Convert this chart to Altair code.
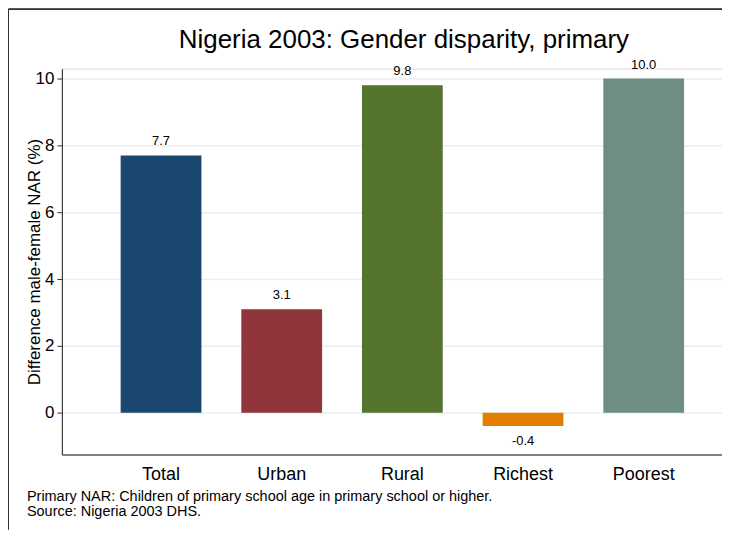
import altair as alt
import pandas as pd

categories = ["Total", "Urban", "Rural", "Richest", "Poorest"]
values = [7.7, 3.1, 9.8, -0.4, 10.0]
colors = ["#1a476f", "#90353b", "#55752f", "#e37e00", "#6e8e84"]
notes = ["Primary NAR: Children of primary school age in primary school or higher.",
         "Source: Nigeria 2003 DHS."]

df = pd.DataFrame({"cat": categories, "val": values,
                   "pos": [v >= 0 for v in values]})
notes_df = pd.DataFrame({"line": ["\n".join(notes)]})

FONT = "Liberation Sans"
W, H = 662, 387

x = alt.X("cat:N", sort=categories, title=None,
          scale=alt.Scale(paddingInner=0.3306, paddingOuter=0.4008, align=0.608),
          axis=alt.Axis(labelAngle=0, labelFontSize=18, labelFont=FONT, labelColor="#000",
                        ticks=False, domainColor="#808080", domainWidth=2,
                        labelPadding=11, grid=False))
y = alt.Y("val:Q", title="Difference male-female NAR (%)",
          scale=alt.Scale(domain=[-1.25, 10.3], nice=False, zero=False),
          axis=alt.Axis(values=[0, 2, 4, 6, 8, 10], labelFontSize=17, labelFont=FONT,
                        labelColor="#000", titleFontSize=17, titleFont=FONT,
                        titleFontWeight="normal", titleColor="#000", titleX=-22,
                        titleBaseline="alphabetic",
                        tickSize=5, tickColor="#333", domainColor="#222",
                        labelPadding=3, gridColor="#e8eef2", gridWidth=1.5,
                        domainWidth=1))

bars = alt.Chart(df).mark_bar(size=81).encode(
    x=x, y=y,
    color=alt.Color("cat:N", sort=categories,
                    scale=alt.Scale(domain=categories, range=colors), legend=None),
)

label_expr = "replace(format(datum.val, '.1f'), '\u2212', '-')"

lab_pos = alt.Chart(df).transform_filter("datum.pos").transform_calculate(
    lbl=label_expr
).mark_text(
    font=FONT, fontSize=13, baseline="bottom", dy=-7, color="#000"
).encode(x=alt.X("cat:N", sort=categories), y="val:Q", text="lbl:N")

lab_neg = alt.Chart(df).transform_filter("!datum.pos").transform_calculate(
    lbl=label_expr
).mark_text(
    font=FONT, fontSize=13, baseline="top", dy=9, color="#000"
).encode(x=alt.X("cat:N", sort=categories), y="val:Q", text="lbl:N")

note_text = alt.Chart(notes_df).mark_text(
    font=FONT, fontSize=14.5, align="left", baseline="middle", color="#000",
    lineBreak="\n", lineHeight=14.5
).encode(x=alt.value(-35), y=alt.value(430), text="line:N")

border_left = alt.Chart(df).mark_rule(color="#333", strokeWidth=1).encode(
    x=alt.value(-53.5), y=alt.value(-59.5), y2=alt.value(H + 75))
border_top = alt.Chart(df).mark_rule(color="#333", strokeWidth=1).encode(
    x=alt.value(-53.5), x2=alt.value(W), y=alt.value(-59.5))

chart = alt.layer(bars, lab_pos, lab_neg, note_text, border_left, border_top).properties(
    width=W, height=H,
    title=alt.TitleParams("Nigeria 2003: Gender disparity, primary", fontSize=26, font=FONT,
                          fontWeight="normal", color="#000", anchor="middle", offset=-44,
                          dx=12),
    autosize=alt.AutoSizeParams(type="none"),
    padding={"left": 54, "top": 60, "right": 0, "bottom": 75},
).configure_view(stroke=None).configure(background="white")

chart.save("out.html", embed_options={"renderer": "svg", "actions": False})
